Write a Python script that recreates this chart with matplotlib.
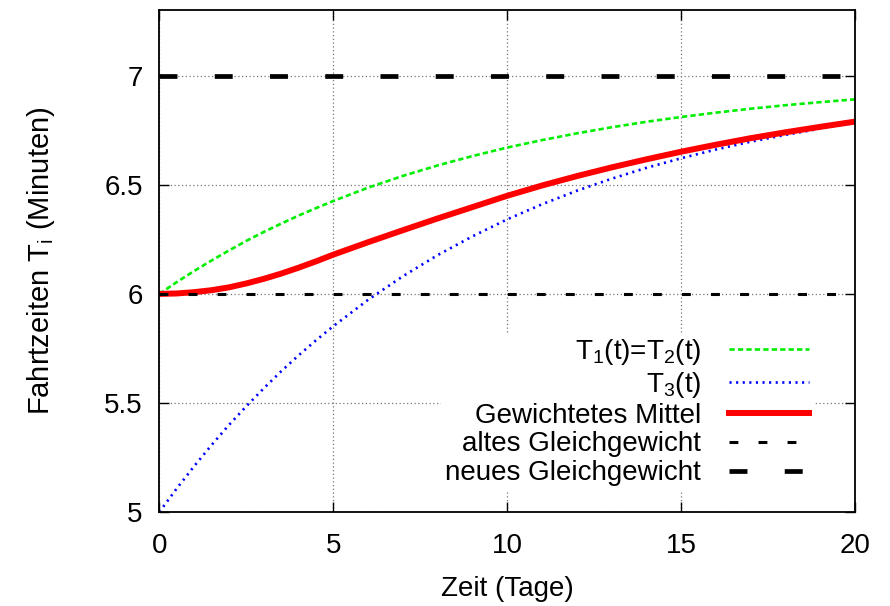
import numpy as np
import matplotlib
matplotlib.use('Agg')
import matplotlib.pyplot as plt

plt.rcParams['font.family'] = 'Liberation Sans'
plt.rcParams['mathtext.fontset'] = 'custom'
plt.rcParams['mathtext.rm'] = 'Liberation Sans'
plt.rcParams['mathtext.it'] = 'Liberation Sans'
plt.rcParams['font.size'] = 20

# values
t = [0, 0.5, 1, 1.5, 2, 2.5, 3, 3.5, 4, 4.5, 5, 6, 7, 8, 9, 10,
     11, 12, 13, 14, 15, 16, 17, 18, 19, 20]
T12 = [6.000, 6.054, 6.105, 6.153, 6.199, 6.243, 6.284, 6.322, 6.359, 6.393, 6.426,
       6.487, 6.541, 6.589, 6.632, 6.671, 6.705, 6.736, 6.764, 6.789, 6.811,
       6.831, 6.849, 6.865, 6.879, 6.892]
T3 = [5.000, 5.108, 5.210, 5.307, 5.399, 5.485, 5.567, 5.645, 5.718, 5.787, 5.852,
      5.973, 6.081, 6.178, 6.264, 6.342, 6.411, 6.473, 6.528, 6.578, 6.622,
      6.662, 6.698, 6.729, 6.758, 6.783]
mittel = [6.000, 6.002, 6.008, 6.017, 6.030, 6.048, 6.069, 6.093, 6.120, 6.149, 6.180,
          6.237, 6.292, 6.346, 6.398, 6.450, 6.497, 6.540, 6.580, 6.617, 6.652,
          6.684, 6.714, 6.741, 6.766, 6.790]
alt = 6.0
neu = 7.0

labels = [r'T$\mathregular{_1}$(t)=T$\mathregular{_2}$(t)', r'T$\mathregular{_3}$(t)',
          'Gewichtetes Mittel', 'altes Gleichgewicht', 'neues Gleichgewicht']

fig = plt.figure(figsize=(8.9, 6.06), dpi=100)
ax = fig.add_axes([0.179, 0.155, 0.782, 0.828])

ax.plot(t, T12, color='#00ee00', lw=1.9, dashes=(2.0, 1.2), label=labels[0])
ax.plot(t, T3, color='#0000ff', lw=1.9, dashes=(0.8, 1.7), label=labels[1])
ax.plot(t, mittel, color='red', lw=4.3, label=labels[2])
ax.plot([t[0], t[-1]], [alt, alt], color='black', lw=2.2, dashes=(2.9, 6.6), label=labels[3])
ax.plot([t[0], t[-1]], [neu, neu], color='black', lw=3.4, dashes=(3.8, 7.9), label=labels[4])

ax.set_xlim(0, 20)
ax.set_ylim(5, 7.3)
ax.set_xticks([0, 5, 10, 15, 20])
ax.set_yticks([5, 5.5, 6, 6.5, 7])
ax.set_yticklabels(['5', '5.5', '6', '6.5', '7'])
ax.grid(True, color='#777777', lw=0.9, linestyle=(0, (1, 2)))
ax.tick_params(direction='in', length=7, width=1, top=True, right=True)
ax.tick_params(axis='x', pad=15)
ax.tick_params(axis='y', pad=12)
for s in ax.spines.values():
    s.set_linewidth(1.3)

ax.set_xlabel('Zeit (Tage)', labelpad=12)
ax.set_ylabel(r'Fahrtzeiten T$\mathregular{_i}$ (Minuten)', labelpad=34, fontsize=21)

leg = ax.legend(loc='center right', bbox_to_anchor=(0.94, 0.2), markerfirst=False,
                handlelength=2.9, handletextpad=1.0, labelspacing=0.1,
                borderpad=0.15, borderaxespad=0, fancybox=False, framealpha=1,
                edgecolor='none', facecolor='white', fontsize=20)
for txt in leg.get_texts():
    txt.set_ha('right')
leg._legend_box.align = 'right'

fig.savefig('out.png', dpi=100)
